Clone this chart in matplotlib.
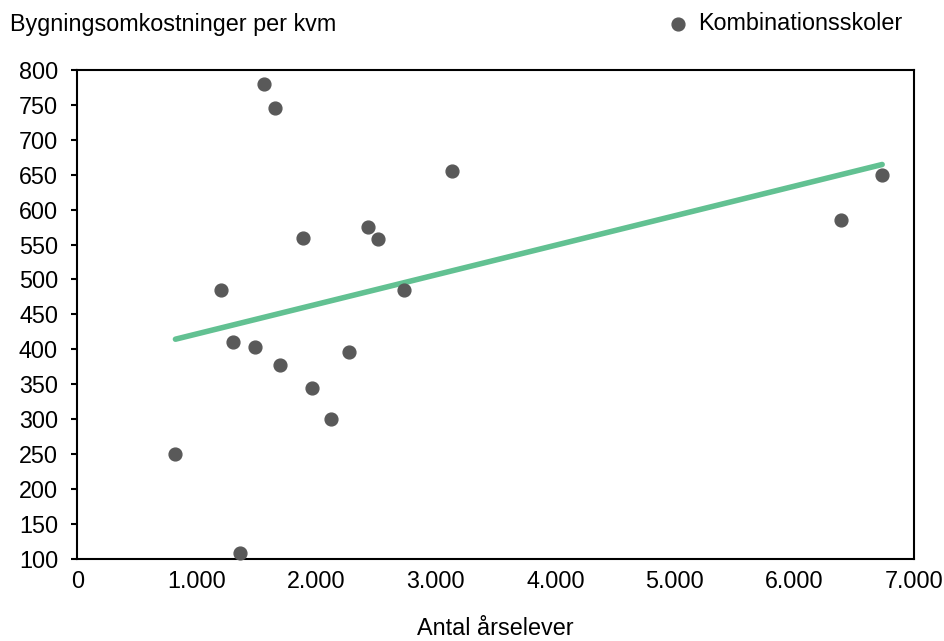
import numpy as np
import matplotlib.pyplot as plt
from matplotlib.ticker import FuncFormatter

# Data
aarselever = [820, 1197, 1305, 1363, 1489, 1564, 1657, 1699, 1891,
              1966, 2125, 2276, 2435, 2518, 2736, 3138, 6392, 6735]
omkostninger = [250, 485, 410, 108, 403, 780, 745, 378, 560,
                345, 300, 396, 575, 558, 485, 655, 585, 650]

x = np.array(aarselever)
y = np.array(omkostninger)

plt.rcParams['font.family'] = ['Liberation Sans', 'DejaVu Sans']
fs = 16.8

fig = plt.figure(figsize=(9.45, 6.41), dpi=100)
ax = fig.add_axes([0.082, 0.128, 0.885, 0.763])

ax.scatter(x, y, s=85, color="#595959", zorder=3, clip_on=False,
           label="Kombinationsskoler")

# Lineær trendlinje
slope, intercept = np.polyfit(x, y, 1)
xs = np.array([x.min(), x.max()])
ax.plot(xs, slope * xs + intercept, color="#62c192", linewidth=4,
        solid_capstyle="round", zorder=2)

ax.set_xlim(0, 7000)
ax.set_ylim(100, 800)
ax.set_xticks(np.arange(0, 7001, 1000))
ax.set_yticks(np.arange(100, 801, 50))
ax.xaxis.set_major_formatter(FuncFormatter(lambda v, p: f"{int(v):,}".replace(",", ".")))

ax.tick_params(axis="x", length=0, labelsize=fs, pad=8)
ax.tick_params(axis="y", length=4, width=1.5, labelsize=fs, direction="out", pad=10)
for s in ax.spines.values():
    s.set_linewidth(1.5)
    s.set_color("black")

fig.text(0.011, 0.962, "Bygningsomkostninger per kvm", fontsize=fs, va="center", ha="left")
ax.set_xlabel("Antal årselever", fontsize=fs, labelpad=17)

ax.legend(loc="center left", bbox_to_anchor=(0.682, 1.095), frameon=False,
          fontsize=fs, handlelength=0.8, handletextpad=0.45)

plt.savefig("out.png", dpi=100)
